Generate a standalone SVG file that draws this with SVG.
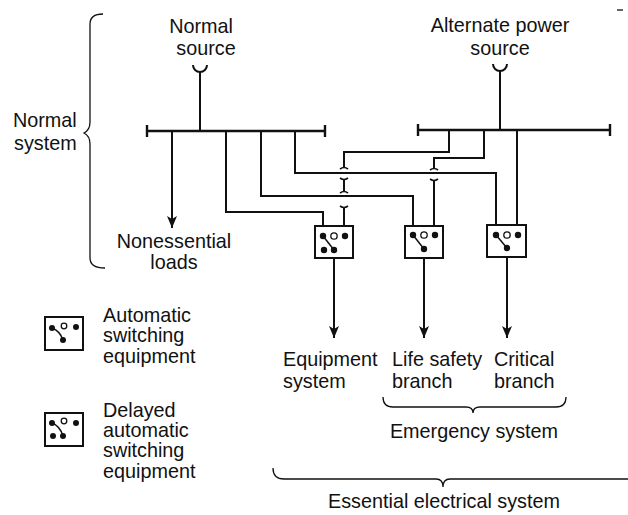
<svg xmlns="http://www.w3.org/2000/svg" width="628" height="515" viewBox="0 0 628 515">
<style>
text{font-family:"Liberation Sans",Arial,sans-serif;font-size:19.8px;fill:#111}
.w{fill:none;stroke:#111;stroke-width:2}
.bus{fill:none;stroke:#111;stroke-width:2.4}
.br{fill:none;stroke:#111;stroke-width:1.3}
.box{fill:#fff;stroke:#111;stroke-width:2}
.d{fill:#111}
.o{fill:#fff;stroke:#111;stroke-width:1.3}
.m{text-anchor:middle}
</style>
<defs>
<marker id="ah" viewBox="0 0 12 10" refX="12" refY="5" markerWidth="12" markerHeight="10" markerUnits="userSpaceOnUse" orient="auto">
<path d="M0,0 L12,5 L0,10 L3,5 z" fill="#111"/>
</marker>
</defs>
<rect width="628" height="515" fill="#fff"/>

<g id="normal-source">
<path class="w" d="M193 65 A7 7 0 0 0 207 65"/>
<text class="m" x="201" y="33">Normal</text>
<text class="m" x="206" y="55">source</text>
</g>
<g id="alternate-source">
<path class="w" d="M493 64 A7 7 0 0 0 507 64"/>
<text class="m" x="500" y="32">Alternate power</text>
<text class="m" x="500" y="55">source</text>
</g>
<g id="normal-bus">
<path class="bus" d="M147 131 H325 M147 125 V137 M325 125 V137"/>
</g>
<g id="alternate-bus">
<path class="bus" d="M418 130 H610 M418 124 V136 M610 124 V136"/>
</g>

<g id="connectors">
<path class="w" d="M200 72 V131"/>
<path class="w" d="M500 71 V130"/>
<path class="w" d="M172 131 V228" marker-end="url(#ah)"/>
<path class="w" d="M226 131 V212 H323 V236"/>
<path class="w" d="M261 131 V196 H413 V235"/>
<path class="w" d="M295 131 V173 H496 V235"/>
<path class="w" d="M449 130 V152 H344 V168"/>
<path class="w" d="M344 179 V192"/>
<path class="w" d="M344 207 V236"/>
<path class="w" d="M484 130 V158 H434 V169"/>
<path class="w" d="M434 180 V235"/>
<path class="w" d="M517 130 V235"/>
<g class="br" style="stroke-width:1.6">
<path d="M340 169 Q344 166 348 169"/>
<path d="M340 178 Q344 181 348 178"/>
<path d="M340 193 Q344 190 348 193"/>
<path d="M340 206 Q344 209 348 206"/>
<path d="M430 170 Q434 167 438 170"/>
<path d="M430 179 Q434 182 438 179"/>
</g>
<path class="w" d="M334 250 V338" marker-end="url(#ah)"/>
<path class="w" d="M424 249 V338" marker-end="url(#ah)"/>
<path class="w" d="M507 248 V338" marker-end="url(#ah)"/>
</g>

<g id="switch-equipment">
<rect class="box" x="315" y="226" width="38" height="32"/>
<path class="w" d="M323 236 L334 250" style="stroke-width:1.5"/>
<circle class="d" cx="323" cy="236" r="3.2"/>
<circle class="o" cx="334" cy="236" r="3.2"/>
<circle class="d" cx="345" cy="236" r="3.2"/>
<circle class="d" cx="324" cy="250" r="3.2"/>
<circle class="d" cx="334" cy="250" r="3.2"/>
</g>
<g id="switch-life-safety">
<rect class="box" x="405" y="226" width="38" height="32"/>
<path class="w" d="M413 235 L424 249" style="stroke-width:1.5"/>
<circle class="d" cx="413" cy="235" r="3.2"/>
<circle class="o" cx="424" cy="235" r="3.2"/>
<circle class="d" cx="435" cy="235" r="3.2"/>
<circle class="d" cx="424" cy="249" r="3.2"/>
</g>
<g id="switch-critical">
<rect class="box" x="487" y="225" width="39" height="32"/>
<path class="w" d="M496 235 L507 248" style="stroke-width:1.5"/>
<circle class="d" cx="496" cy="235" r="3.2"/>
<circle class="o" cx="507" cy="235" r="3.2"/>
<circle class="d" cx="518" cy="235" r="3.2"/>
<circle class="d" cx="507" cy="248" r="3.2"/>
</g>

<g id="normal-system">
<path class="br" d="M103 14 Q90 14 90 24 V122 Q90 130 84 133 Q90 136 90 144 V258 Q90 268 105 268"/>
<text x="13" y="127">Normal</text>
<text x="14" y="150">system</text>
</g>
<g id="nonessential-loads">
<text class="m" x="174" y="248">Nonessential</text>
<text class="m" x="174" y="269">loads</text>
</g>
<g id="equipment-system">
<text x="283" y="366">Equipment</text>
<text x="283" y="388">system</text>
</g>
<g id="life-safety-branch">
<text x="392" y="366">Life safety</text>
<text x="392" y="388">branch</text>
</g>
<g id="critical-branch">
<text x="494" y="366">Critical</text>
<text x="494" y="388">branch</text>
</g>
<g id="emergency-system">
<path class="br" d="M383 397 Q383 407 393 407 H466 Q473 407 473 413 Q473 407 480 407 H556 Q566 407 566 397"/>
<text class="m" x="474" y="438">Emergency system</text>
</g>
<g id="essential-electrical-system">
<path class="br" d="M273 468 Q273 479 284 479 H436 Q443 479 443 487 Q443 479 450 479 H628"/>
<text class="m" x="444" y="508">Essential electrical system</text>
</g>

<g id="legend-automatic">
<rect class="box" x="45" y="317" width="38" height="33"/>
<path class="w" d="M52 328 Q60 331 63 340" style="stroke-width:1.5"/>
<circle class="d" cx="52" cy="328" r="3"/>
<circle class="o" cx="64" cy="326" r="2.8"/>
<circle class="d" cx="76" cy="327" r="3"/>
<circle class="d" cx="63" cy="340" r="3"/>
<text x="103" y="322">Automatic</text>
<text x="103" y="342">switching</text>
<text x="103" y="363">equipment</text>
</g>
<g id="legend-delayed">
<rect class="box" x="45" y="413" width="38" height="33"/>
<path class="w" d="M52 423 Q60 426 63 436" style="stroke-width:1.5"/>
<circle class="d" cx="52" cy="423" r="3"/>
<circle class="o" cx="64" cy="421" r="2.8"/>
<circle class="d" cx="76" cy="423" r="3"/>
<circle class="d" cx="53" cy="436" r="3"/>
<circle class="d" cx="63" cy="436" r="3"/>
<text x="103" y="417">Delayed</text>
<text x="103" y="437">automatic</text>
<text x="103" y="457">switching</text>
<text x="103" y="478">equipment</text>
</g>
<path class="br" d="M617 10 H623"/>
</svg>
